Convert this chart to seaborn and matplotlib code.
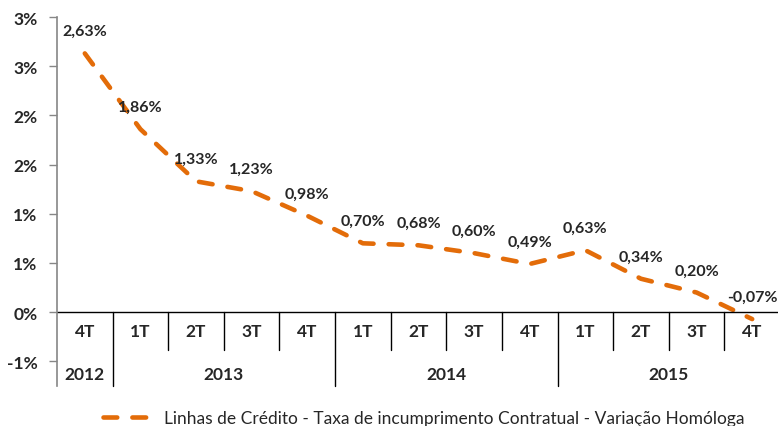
import numpy as np
import pandas as pd
import matplotlib
matplotlib.use('Agg')
import matplotlib.pyplot as plt
import seaborn as sns

# data
quarters = ['4T', '1T', '2T', '3T', '4T', '1T', '2T', '3T', '4T',
            '1T', '2T', '3T', '4T']
years = ['2012', '2013', '2013', '2013', '2013', '2014', '2014', '2014',
         '2014', '2015', '2015', '2015', '2015']
values = [2.63, 1.86, 1.33, 1.23, 0.98, 0.70, 0.68, 0.60, 0.49,
          0.63, 0.34, 0.20, -0.07]
ytick_values = [-0.5, 0.0, 0.5, 1.0, 1.5, 2.0, 2.5, 3.0]
ytick_labels = ['-1%', '0%', '1%', '1%', '2%', '2%', '3%', '3%']
series_name = ('Linhas de Crédito - Taxa de incumprimento Contratual'
               ' - Variação Homóloga')

df = pd.DataFrame({
    'periodo': [q + ' ' + y for q, y in zip(quarters, years)],
    'valor': values,
})

sns.set_style('white')
plt.rcParams['font.family'] = ['Lato', 'DejaVu Sans']
orange = '#E36C09'

fig = plt.figure(figsize=(7.78, 4.27), dpi=100)
ax = fig.add_axes([57 / 778, 1 - 387 / 427, 723 / 778, 369 / 427])

sns.lineplot(data=df, x='periodo', y='valor', sort=False, ax=ax,
             color=orange, linewidth=3.3, label=series_name)
line = ax.lines[0]
line.set_linestyle((0, (3.0, 3.3)))
line.set_dash_capstyle('round')
line.set_clip_on(False)

n = len(values)
ax.set_xlim(-0.5, n - 0.5)
ax.set_ylim(-0.75, 3.0)
ax.set_yticks(ytick_values)
ax.set_yticklabels(ytick_labels, fontsize=12.5, fontweight='bold')
ax.set_xticks([])
ax.set_xlabel('')
ax.set_ylabel('')
ax.tick_params(axis='y', left=True, length=6, width=1, color='#868686',
               pad=8)

for s in ['top', 'right', 'bottom']:
    ax.spines[s].set_visible(False)
ax.spines['left'].set_color('#868686')
ax.spines['left'].set_linewidth(1.2)

# zero line
ax.axhline(0, color='black', lw=1)

# data labels
for i, v in enumerate(values):
    ax.annotate('{:.2f}%'.format(v).replace('.', ','), (i, v),
                xytext=(0, 16), textcoords='offset points',
                ha='center', va='center', fontsize=11.5, fontweight='bold')

# category table below the zero line
for i, q in enumerate(quarters):
    ax.text(i, -0.19, q, ha='center', va='center', fontsize=12.5,
            fontweight='bold')
for i in range(1, n):
    if years[i] != years[i - 1]:
        ax.plot([i - 0.5, i - 0.5], [0, -0.75], color='black', lw=1,
                clip_on=False)
    else:
        ax.plot([i - 0.5, i - 0.5], [0, -0.385], color='black', lw=1,
                clip_on=False)

uniq_years = list(dict.fromkeys(years))
for y in uniq_years:
    idx = [i for i, yy in enumerate(years) if yy == y]
    ax.text(np.mean(idx), -0.63, y, ha='center', va='center', fontsize=12.5,
            fontweight='bold')

ax.legend(loc='center', bbox_to_anchor=(424 / 778, 1 - 419 / 427),
          bbox_transform=fig.transFigure, frameon=False, fontsize=12.5,
          handlelength=3.0, handletextpad=0.5, borderpad=0,
          borderaxespad=0)

fig.savefig('out.png', dpi=100)
